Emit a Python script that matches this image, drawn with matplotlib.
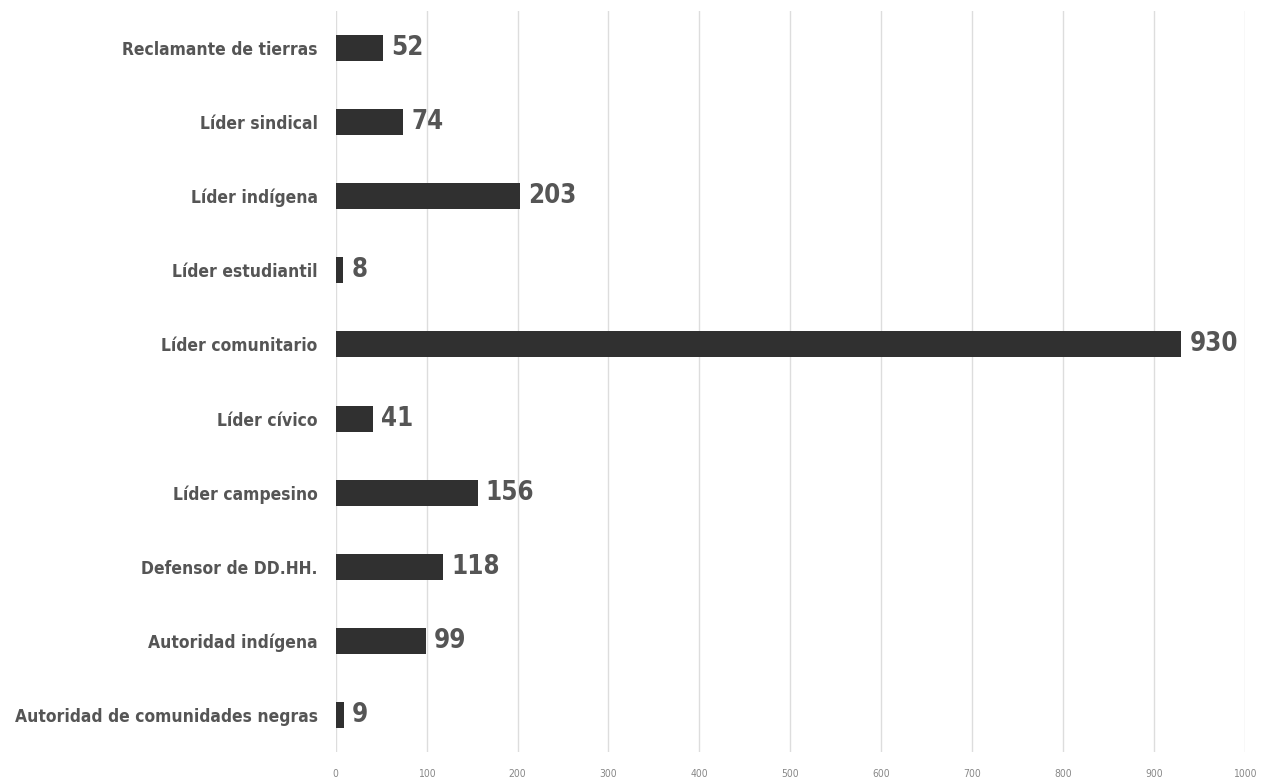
import matplotlib.pyplot as plt

# ---------------------------------------------------
# Data
# ---------------------------------------------------
categories = [
    "Reclamante de tierras",
    "Líder sindical",
    "Líder indígena",
    "Líder estudiantil",
    "Líder comunitario",
    "Líder cívico",
    "Líder campesino",
    "Defensor de DD.HH.",
    "Autoridad indígena",
    "Autoridad de comunidades negras",
]
values = [52, 74, 203, 8, 930, 41, 156, 118, 99, 9]
x_ticks = [0, 100, 200, 300, 400, 500, 600, 700, 800, 900, 1000]

plt.rcParams["font.family"] = ["DejaVu Sans"]
plt.rcParams["font.stretch"] = "condensed"

# ---------------------------------------------------
# Plot
# ---------------------------------------------------
fig = plt.figure(figsize=(12.62, 7.77), dpi=100)
ax = fig.add_axes([0.266, 0.032, 0.7205, 0.954])

pos = list(range(len(categories)))
ax.barh(pos, values, height=0.35, color="#303030", zorder=3)

for p, v in zip(pos, values):
    ax.text(v + 9, p, str(v), va="center", ha="left",
            fontsize=18.5, fontweight="bold", color="#555555", fontstretch="condensed")

ax.set_yticks(pos)
ax.set_yticklabels(categories, fontsize=12.5, fontweight="bold", color="#555555",
                   fontstretch="condensed")
ax.set_ylim(len(categories) - 0.5, -0.5)

ax.set_xlim(0, 1000)
ax.set_xticks(x_ticks)
ax.set_xticklabels([str(t) for t in x_ticks], fontsize=7.5, color="#888888",
                   fontstretch="condensed")
ax.grid(axis="x", color="#dddddd", linewidth=1.0, zorder=0)

ax.tick_params(axis="y", length=0, pad=13)
ax.tick_params(axis="x", length=0, pad=12)
for s in ax.spines.values():
    s.set_visible(False)

fig.savefig("out.png", dpi=100)
